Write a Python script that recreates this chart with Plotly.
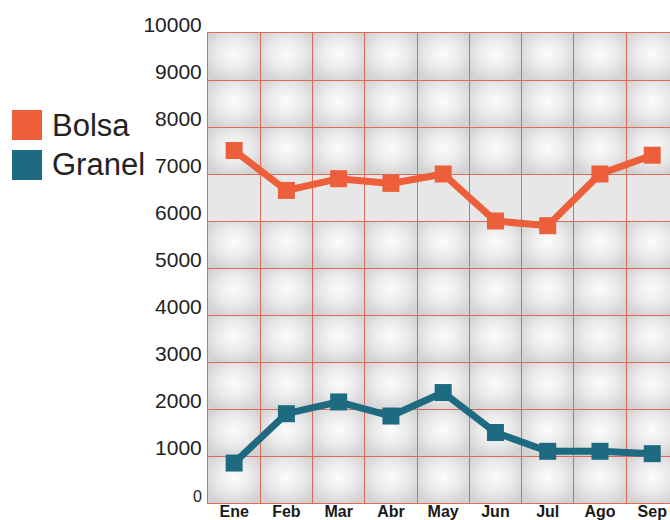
import base64
import plotly.graph_objects as go

months = ["Ene", "Feb", "Mar", "Abr", "May", "Jun", "Jul", "Ago", "Sep"]
bolsa = [7500, 6650, 6900, 6800, 7000, 6000, 5900, 7000, 7400]
granel = [850, 1900, 2150, 1850, 2350, 1500, 1100, 1100, 1050]
y_ticks = [0, 1000, 2000, 3000, 4000, 5000, 6000, 7000, 8000, 9000, 10000]

ORANGE = "#EC5F3A"
TEAL = "#1E6A80"
GRID = "#DE6A5C"

W, H = 670, 520
ML, MR, MT, MB = 208, 0, 33, 17
X_RANGE = [-0.5, 8.34]
Y_RANGE = [0, 10000]


def px(x):
    return (x - ML) / (W - ML - MR)


def py(y):
    return 1 - (y - MT) / (H - MT - MB)


# background tiles (decoration only)
ncols_w = X_RANGE[1] - X_RANGE[0]
rects = []
for r in range(10):
    for c in range(9):
        fill = "#e7e7e7" if r == 3 else "url(#g)"
        rects.append(f'<rect x="{c}" y="{r}" width="1" height="1" fill="{fill}"/>')
svg = (
    f'<svg xmlns="http://www.w3.org/2000/svg" width="462" height="470" '
    f'viewBox="0 0 {ncols_w} 10" preserveAspectRatio="none">'
    '<defs><radialGradient id="g" cx="0.5" cy="0.45" r="0.62">'
    '<stop offset="0" stop-color="#fcfcfc"/>'
    '<stop offset="0.55" stop-color="#e9e9e9"/>'
    '<stop offset="1" stop-color="#d2d2d2"/>'
    '</radialGradient></defs>' + "".join(rects) + "</svg>"
)
src = "data:image/svg+xml;base64," + base64.b64encode(svg.encode()).decode()

fig = go.Figure()
fig.add_trace(go.Scatter(
    x=list(range(len(months))), y=bolsa, mode="lines+markers", name="Bolsa",
    line=dict(color=ORANGE, width=7), marker=dict(symbol="square", size=17, color=ORANGE),
    showlegend=False,
))
fig.add_trace(go.Scatter(
    x=list(range(len(months))), y=granel, mode="lines+markers", name="Granel",
    line=dict(color=TEAL, width=7), marker=dict(symbol="square", size=17, color=TEAL),
    showlegend=False,
))

fig.add_layout_image(dict(
    source=src, xref="x", yref="y", x=X_RANGE[0], y=Y_RANGE[1],
    sizex=ncols_w, sizey=Y_RANGE[1] - Y_RANGE[0], sizing="stretch",
    xanchor="left", yanchor="top", layer="below",
))

ytext = [("<span style='font-size:16px'>0</span>" if v == 0 else str(v)) for v in y_ticks]

fig.update_layout(
    width=W, height=H,
    margin=dict(l=ML, r=MR, t=MT, b=MB, autoexpand=False),
    paper_bgcolor="white", plot_bgcolor="rgba(0,0,0,0)",
    font=dict(family="Liberation Sans, Arial, sans-serif", color="#222222"),
    xaxis=dict(
        range=X_RANGE, tickmode="array", tickvals=list(range(len(months))), ticktext=months,
        showgrid=False, zeroline=False, ticks="", automargin=False,
        tickfont=dict(size=16, family="Liberation Sans, Arial, sans-serif",
                      color="#1a1a1a", weight="bold"),
        ticklabelstandoff=-6,
        showline=True, linecolor=GRID, linewidth=1, mirror=True,
        minor=dict(tickmode="array", tickvals=[i + 0.5 for i in range(-1, 9)],
                   showgrid=True, gridcolor=GRID, gridwidth=1, ticks=""),
    ),
    yaxis=dict(
        range=Y_RANGE, tickmode="array", tickvals=y_ticks, ticktext=ytext,
        showgrid=True, gridcolor=GRID, gridwidth=1, zeroline=False, ticks="", automargin=False,
        tickfont=dict(size=21, color="#222222"),
        ticklabelstandoff=1, ticklabelshift=-8,
        showline=True, linecolor=GRID, linewidth=1,
    ),
)

# legend drawn manually
for name, color, y0 in [("Bolsa", ORANGE, 110), ("Granel", TEAL, 150)]:
    fig.add_shape(type="rect", xref="paper", yref="paper",
                  x0=px(12), x1=px(42), y0=py(y0 + 30), y1=py(y0),
                  fillcolor=color, line=dict(width=0))
    fig.add_annotation(xref="paper", yref="paper", x=px(50), y=py(y0 + 15),
                       text=name, showarrow=False, xanchor="left", yanchor="middle",
                       font=dict(size=31, color="#222222"))

fig.write_html("out.html", config={"displayModeBar": False},
               post_script="document.body.style.margin='0';")
